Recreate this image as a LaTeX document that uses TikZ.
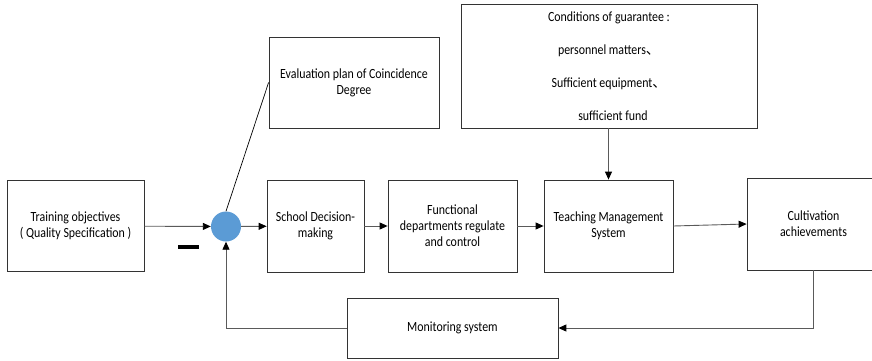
\documentclass[tikz,border=0pt]{standalone}
\usepackage{fontspec}
\setmainfont[FakeStretch=0.85]{Carlito}
\newfontfamily\cjk{Noto Sans CJK SC}
\usetikzlibrary{arrows.meta}
\definecolor{sumblue}{HTML}{5B9BD5}
\definecolor{linegray}{HTML}{5A5A5A}
\begin{document}
\begin{tikzpicture}[x=1pt,y=-1pt,
    font=\fontsize{14}{16}\selectfont,
    box/.style={draw=black!80, line width=0.8pt, align=center, inner sep=0pt},
    flow/.style={draw=linegray, line width=0.9pt, -{Triangle[length=8pt,width=7pt,color=black]}}]
    \clip (0,0) rectangle (872,361);
    % Cajas de la cadena principal
    \node[box, minimum width=137pt, minimum height=91pt] (train) at (75.5,226) {Training objectives\\( Quality Specification )};
    \node[circle, fill=sumblue, minimum size=30pt, inner sep=0pt] (sum) at (226,226.5) {};
    \node[box, minimum width=97pt, minimum height=92pt] (school) at (315.5,226) {School Decision-\\making};
    \node[box, minimum width=129pt, minimum height=92pt] (func) at (452.5,226) {Functional\\departments regulate\\and control};
    \node[box, minimum width=129pt, minimum height=92pt] (teach) at (608.5,226) {Teaching Management\\System};
    \node[box, minimum width=133pt, minimum height=92pt] (cult) at (813.5,224) {Cultivation\\achievements};
    % Cajas de arriba y de abajo
    \node[box, minimum width=170pt, minimum height=91pt] (eval) at (354,82.5) {Evaluation plan of Coincidence\\Degree};
    \node[box, minimum width=296pt, minimum height=124pt] (cond) at (609,66) {Conditions of guarantee :\\[17pt]personnel matters{\cjk 、}\\[17pt]Sufficient equipment{\cjk 、}\\[17pt]\hspace*{8pt}sufficient fund};
    \node[box, minimum width=211pt, minimum height=60pt] (mon) at (452.5,328) {Monitoring system};
    % Flechas
    \draw[flow] (train) -- (sum);
    \draw[flow] (sum) -- (school);
    \draw[flow] (school) -- (func);
    \draw[flow] (func) -- (teach);
    \draw[flow] (teach.east) -- (cult.west);
    \draw[flow] (cond.south -| teach.north) -- (teach.north);
    \draw[draw=black, line width=0.7pt] (sum.north) -- (eval.west);
    % Retroalimentación
    \draw[flow] (cult.south) |- (mon.east);
    \draw[flow] (mon.west) -| (sum.south);
    % Signo menos
    \draw[line width=3.5pt] (178,247) -- (199,247);
\end{tikzpicture}
\end{document}
